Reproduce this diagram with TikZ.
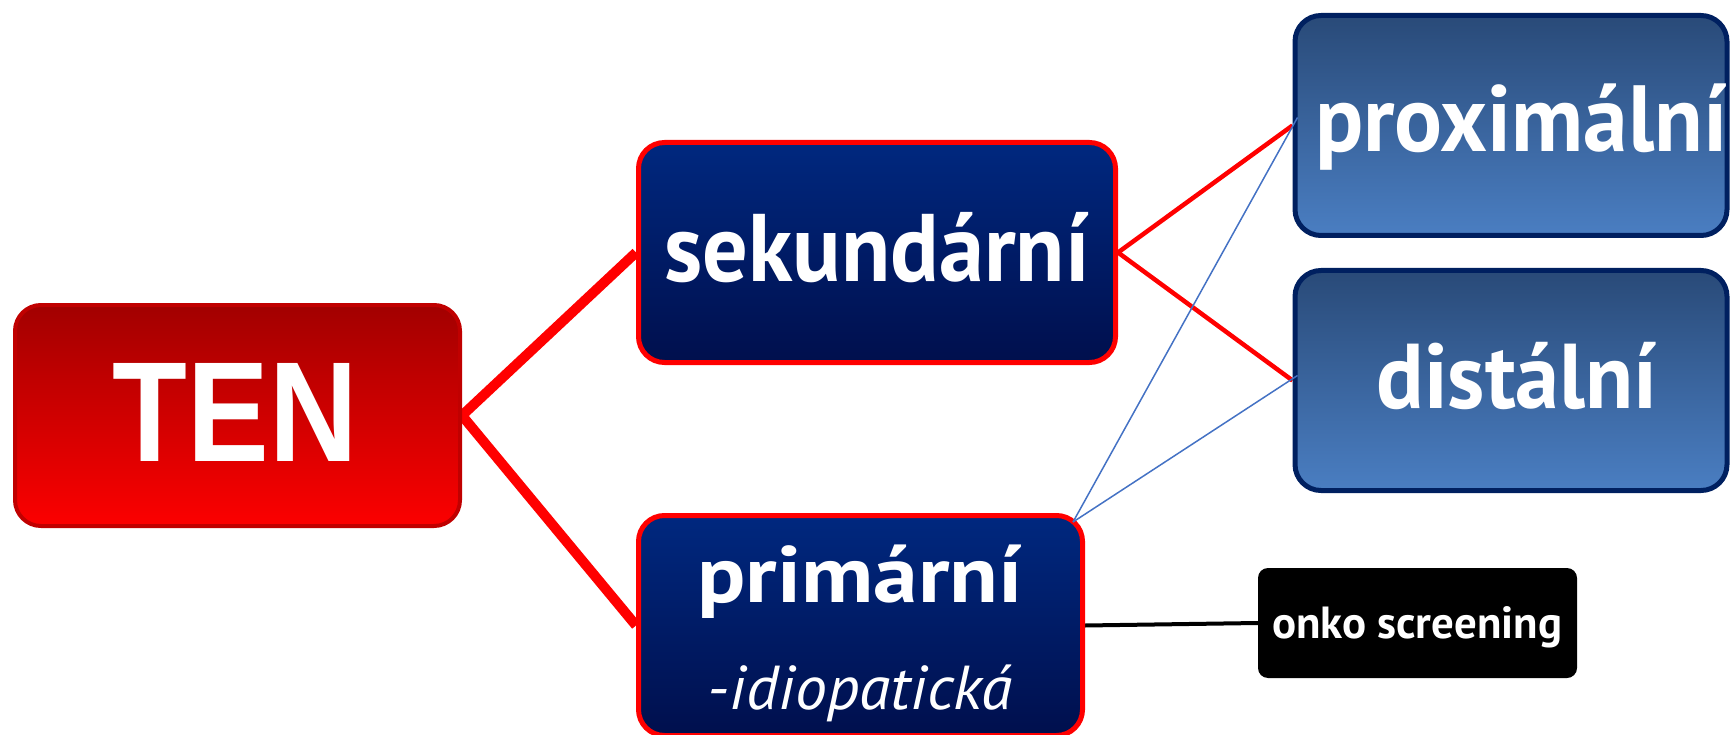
\documentclass[tikz,border=0pt]{standalone}
\usepackage{fontspec}
\setmainfont{PT Sans}
\newfontfamily\tenfont{Liberation Sans}
\usetikzlibrary{backgrounds,calc}

\definecolor{tenTop}{HTML}{A20000}
\definecolor{tenBot}{HTML}{FC0000}
\definecolor{tenEdge}{HTML}{C00000}
\definecolor{navyTop}{HTML}{00287F}
\definecolor{navyBot}{HTML}{000F4D}
\definecolor{steelTop}{HTML}{294A78}
\definecolor{steelBot}{HTML}{4A7EC2}
\definecolor{steelEdge}{HTML}{002060}
\definecolor{thinBlue}{HTML}{4472C4}

% set a word at a given size, then squeeze it to a given width
\newcommand{\fitword}[3]{{\fontsize{#1}{#1}\selectfont\resizebox{#2}{\height}{#3}}}

\begin{document}
\begin{tikzpicture}[x=1pt,y=-1pt,
  box/.style={rounded corners=26pt, inner sep=0pt, line width=5pt},
  tenbox/.style={box, draw=tenEdge, line width=4pt, top color=tenTop, bottom color=tenBot,
    minimum width=445pt, minimum height=221pt},
  typebox/.style={box, draw=red, top color=navyTop, bottom color=navyBot,
    minimum height=220pt},
  sitebox/.style={box, draw=steelEdge, top color=steelTop, bottom color=steelBot,
    minimum width=432pt, minimum height=220pt},
  tagbox/.style={rounded corners=10pt, fill=black, inner sep=0pt,
    minimum width=319pt, minimum height=110pt},
  caption/.style={anchor=base, inner sep=0pt, text=white},
  mainlink/.style={draw=red, line width=10pt},
  sublink/.style={draw=red, line width=4.5pt},
  crosslink/.style={draw=thinBlue, line width=1.5pt},
  taglink/.style={draw=black, line width=4pt}]

\useasboundingbox (0,0) rectangle (1731,735);

% boxes
\node[tenbox]  (ten)  at (237.5,415.5) {};
\node[typebox, minimum width=477pt] (sek)  at (877,252.5) {};
\node[typebox, minimum width=444pt] (prim) at (860.5,625.5) {};
\node[sitebox] (prox) at (1511,125.5) {};
\node[sitebox] (dist) at (1511,380.5) {};
\node[tagbox]  (onko) at (1417.5,623) {};

% captions
\node[caption] (tenT)  at (235,461) {\resizebox{245pt}{98pt}{\tenfont\bfseries TEN}};
\node[caption] (sekT)  at (877,282) {\fitword{96pt}{425pt}{\bfseries sekundární}};
\node[caption] (proxT) at (1521,152) {\fitword{94pt}{412pt}{\bfseries proximální}};
\node[caption] (distT) at (1517,408) {\fitword{92pt}{281pt}{\bfseries distální}};
\node[caption] (primT) at (860,602) {\fitword{80pt}{325pt}{\bfseries primární}};
\node[caption] (idioT) at (860,709) {\fitword{62pt}{304pt}{\itshape -idiopatická}};
\node[caption] (onkoT) at (1417,638) {\fitword{45pt}{290pt}{\bfseries onko screening}};

% connectors behind the boxes
\begin{scope}[on background layer]
  \path[mainlink] (ten.east) -- (sek.west);
  \path[mainlink] (ten.east) -- (prim.west);
  \path[sublink] (sek.east) -- (prox.west);
  \path[sublink] (sek.east) -- (dist.west);
  \path[taglink] (prim.east) -- (onko.west);
\end{scope}

% thin links from the primary box to both sites
\coordinate (primC) at ($(prim.north east)+(-12,9)$);
\coordinate (proxC) at ($(prox.west)+(5,-8)$);
\coordinate (distC) at ($(dist.west)+(5,-5)$);
\path[crosslink] (primC) -- (proxC);
\path[crosslink] (primC) -- (distC);

\end{tikzpicture}
\end{document}
